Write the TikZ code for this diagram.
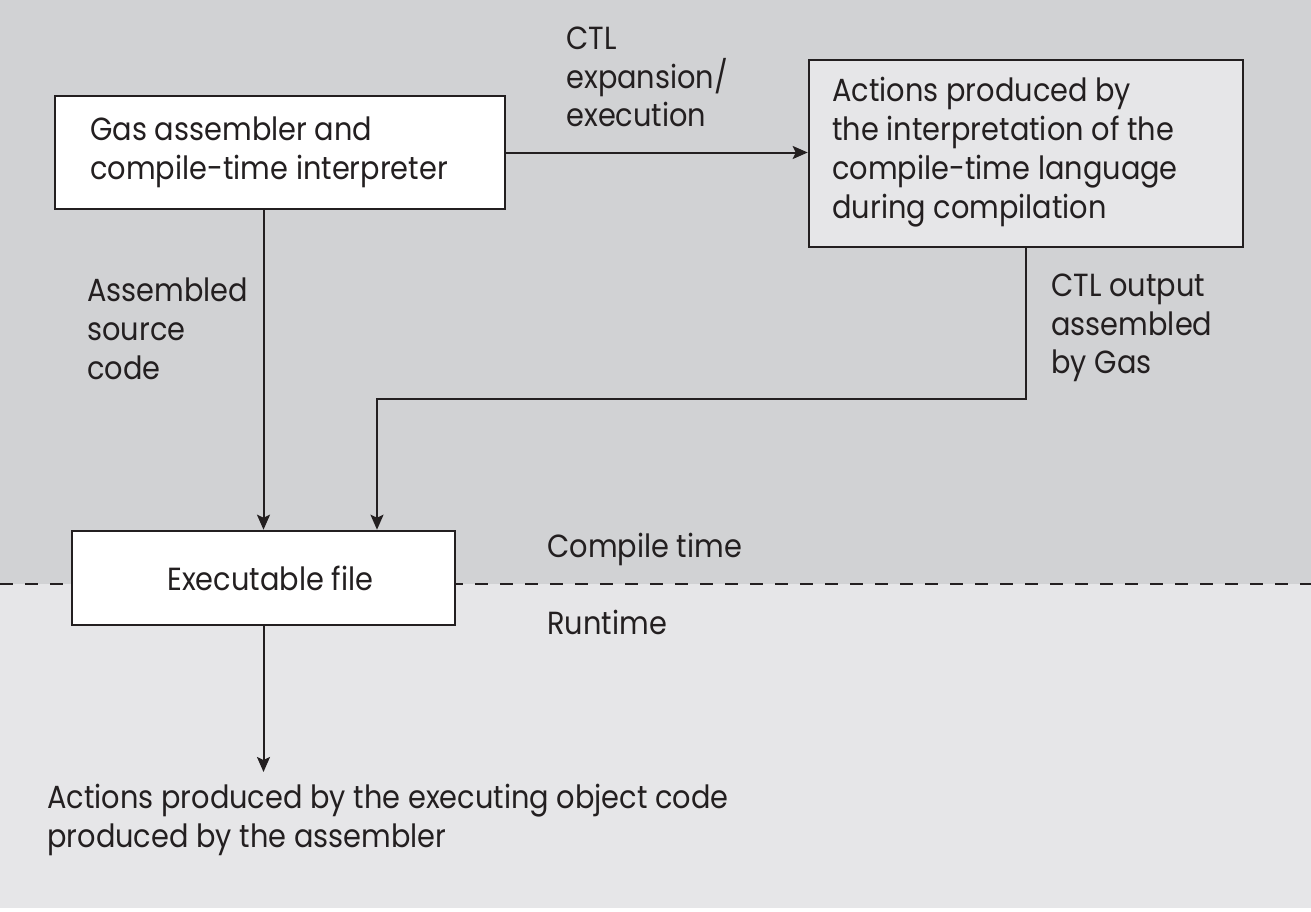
\documentclass[tikz,border=0pt]{standalone}
\usepackage{fontspec}
\setmainfont{Poppins}[FakeStretch=0.9]
\usetikzlibrary{arrows.meta,calc}
\definecolor{topgray}{HTML}{D1D2D4}
\definecolor{lowgray}{HTML}{E6E6E8}
\definecolor{ink}{HTML}{231F20}
\begin{document}
\begin{tikzpicture}[x=0.5pt,y=-0.5pt,
  every node/.style={font=\fontsize{16}{19.4}\selectfont, text=ink},
  box/.style={draw=ink, line width=1.3pt, inner sep=0pt},
  arr/.style={draw=ink, line width=1pt, -{Stealth[length=7.5pt,width=6.5pt,inset=1.5pt]}},
  lbl/.style={align=left, anchor=west, inner sep=0pt}]
\useasboundingbox (0,0) rectangle (1311,911);
\fill[topgray] (0,0) rectangle (1311,584);
\fill[lowgray] (0,584) rectangle (1311,908);
\draw[ink, line width=1.4pt, dash pattern=on 6.5pt off 6pt] (0,584) -- (1311,584);
% boxes
\node[box, fill=white, minimum width=225pt, minimum height=56.5pt] (b1) at (280,152.5) {};
\node[lbl] (b1t) at (90,152) {Gas assembler and\\compile-time interpreter};
\node[box, fill=lowgray, minimum width=217pt, minimum height=93.5pt] (b2) at (1026,153.5) {};
\node[lbl] (b2t) at (832,152) {Actions produced by\\the interpretation of the\\compile-time language\\during compilation};
\node[box, fill=white, minimum width=191.5pt, minimum height=47pt, align=center] (b3) at (263.5,578) {};
\node[lbl] (b3t) at (167,578) {Executable file};
% labels
\node[lbl] (l1) at (566,77) {CTL\\expansion/\\execution};
\node[lbl] (l2) at (87,329) {Assembled\\source\\code};
\node[lbl] (l3) at (1051,328) {CTL output\\assembled\\by Gas};
\node[lbl] (ct) at (547,549) {Compile time};
\node[lbl] (rt) at (547,622) {Runtime};
\node[lbl] (res) at (47,820) {Actions produced by the executing object code\\produced by the assembler};
% connectors
\coordinate (bend) at (377,399);
\coordinate (tip) at (262,772);
\draw[arr] (b1.east) -- (b1.east -| b2.west);
\draw[arr] (b3.north |- b1.south) -- (b3.north);
\draw[arr] (b2.south) |- (bend) -- (bend |- b3.north);
\draw[arr] (b3.south) -- (b3.south |- tip);
\end{tikzpicture}
\end{document}
